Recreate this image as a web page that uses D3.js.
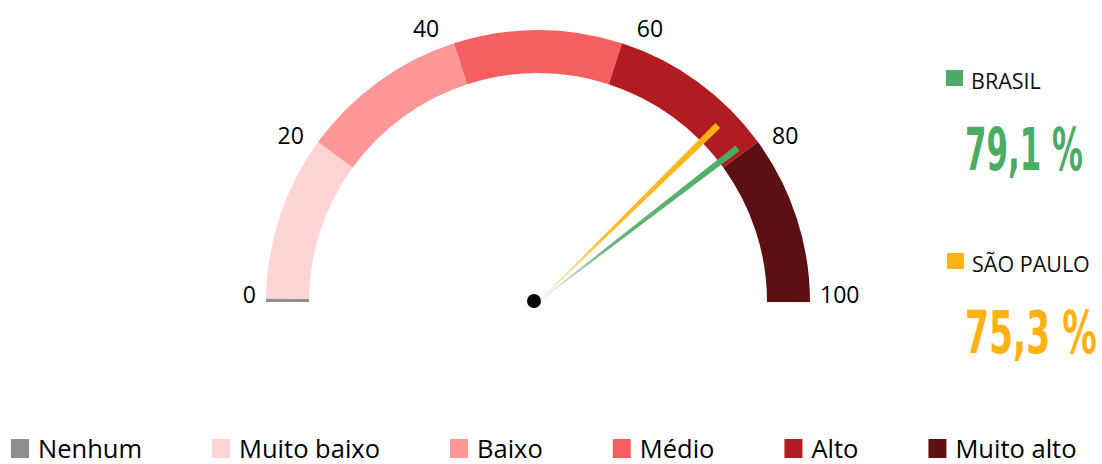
<!DOCTYPE html>
<html>
<head>
<meta charset="utf-8">
<script src="https://cdn.jsdelivr.net/npm/d3@7"></script>
<style>
  body { margin: 0; background: #fff; }
  svg { display: block; font-family: "Open Sans", sans-serif; }
</style>
</head>
<body>
<script>
// gauge bands (value ranges on a 0-100 scale)
const bandNames = ['Nenhum', 'Muito baixo', 'Baixo', 'Médio', 'Alto', 'Muito alto'];
const bandColors = ['#8e8e8e', '#ffd4d6', '#ff9698', '#f65f62', '#b01c1f', '#5c1013'];
const bandStart = [0, 0.4, 20, 40, 60, 80];
const bandEnd = [0.4, 20, 40, 60, 80, 100];

const tickValues = [0, 20, 40, 60, 80, 100];

// needles
const seriesNames = ['BRASIL', 'SÃO PAULO'];
const seriesValues = [79.1, 75.3];
const seriesLabels = ['79,1 %', '75,3 %'];
const seriesColors = ['#4cab65', '#ffb214'];

const width = 1102, height = 464;
const cx = 538, cy = 302;
const outerR = 272, innerR = 229, needleR = 252, labelR = 282;

const svg = d3.select('body').append('svg')
    .attr('width', width)
    .attr('height', height);

const angle = d3.scaleLinear().domain([0, 100]).range([-Math.PI / 2, Math.PI / 2]);

const gauge = svg.append('g')
    .attr('transform', 'translate(' + cx + ',' + cy + ')');

const arc = d3.arc()
    .innerRadius(innerR)
    .outerRadius(outerR);

const bands = bandNames.map((n, i) => ({name: n, color: bandColors[i], start: bandStart[i], end: bandEnd[i]}));

gauge.selectAll('path.band')
    .data(bands)
    .enter()
    .append('path')
    .attr('class', 'band')
    .attr('d', d => arc({startAngle: angle(d.start), endAngle: angle(d.end)}))
    .attr('fill', d => d.color);

// tick labels: box edge kept just outside the arc, spread a little toward the sides
gauge.selectAll('text.tick')
    .data(tickValues)
    .enter()
    .append('text')
    .attr('class', 'tick')
    .attr('text-anchor', 'middle')
    .attr('dy', '0.35em')
    .style('font-size', '23px')
    .attr('fill', '#000')
    .text(d => d)
    .each(function(d) {
        const a = angle(d);
        const theta = (Math.PI / 2 - Math.abs(a)) * 0.94;
        const ux = Math.sign(a) * Math.cos(theta), uy = -Math.sin(theta);
        const w = this.getComputedTextLength();
        const r = labelR + Math.abs(ux) * w / 2 + Math.abs(uy) * 8.5;
        d3.select(this)
            .attr('x', r * ux)
            .attr('y', r * uy - (theta === 0 ? 7 : 0));
    });

// needles: thin at the hub, wider at the tip, fading in from the centre
const defs = svg.append('defs');
const needles = seriesNames.map((n, i) => ({name: n, value: seriesValues[i], color: seriesColors[i], id: 'ng' + i}));

needles.forEach(d => {
    const a = angle(d.value);
    const g = defs.append('linearGradient')
        .attr('id', d.id)
        .attr('gradientUnits', 'userSpaceOnUse')
        .attr('x1', 0).attr('y1', 0)
        .attr('x2', needleR * Math.sin(a)).attr('y2', -needleR * Math.cos(a));
    g.append('stop').attr('offset', 0).attr('stop-color', d.color).attr('stop-opacity', 0.1);
    g.append('stop').attr('offset', 0.35).attr('stop-color', d.color).attr('stop-opacity', 0.85);
    g.append('stop').attr('offset', 1).attr('stop-color', d.color).attr('stop-opacity', 1);
});

gauge.selectAll('path.needle')
    .data(needles.slice().reverse())
    .enter()
    .append('path')
    .attr('class', 'needle')
    .attr('d', d => {
        const a = angle(d.value);
        const ux = Math.sin(a), uy = -Math.cos(a);
        const px = -uy, py = ux;
        const w0 = 0.4, w1 = 3.4;
        const tx = needleR * ux, ty = needleR * uy;
        return 'M' + (px * w0) + ',' + (py * w0) +
            'L' + (tx + px * w1) + ',' + (ty + py * w1) +
            'L' + (tx - px * w1) + ',' + (ty - py * w1) +
            'L' + (-px * w0) + ',' + (-py * w0) + 'Z';
    })
    .attr('fill', d => 'url(#' + d.id + ')');

gauge.append('circle')
    .attr('cx', -4)
    .attr('cy', -1)
    .attr('r', 7)
    .attr('fill', '#000');

// right side: series legend with big values
const side = svg.append('g').attr('class', 'side');
const sideTop = [70, 253];
const valueWidths = [118, 132];

needles.forEach((d, i) => {
    const y0 = sideTop[i];
    side.append('rect')
        .attr('x', 946 + i)
        .attr('y', y0)
        .attr('width', 17)
        .attr('height', 16)
        .attr('fill', d.color);
    side.append('text')
        .attr('x', 971 + i)
        .attr('y', y0 + 19)
        .style('font-size', '21.5px')
        .attr('fill', '#111')
        .text(d.name);
    // big condensed number: squeeze horizontally to the reference width
    const g = side.append('g');
    const t = g.append('text')
        .attr('x', 0)
        .attr('y', 0)
        .style('font-family', '"DejaVu Sans Condensed", "DejaVu Sans", sans-serif')
        .style('font-weight', 'bold')
        .style('font-size', '58px')
        .attr('fill', d.color)
        .text(seriesLabels[i]);
    const sx = valueWidths[i] / t.node().getComputedTextLength();
    g.attr('transform', 'translate(965,' + (y0 + 100) + ') scale(' + sx + ',1)');
});

// bottom legend of the bands, laid out left to right
const legend = svg.append('g').attr('class', 'legend');
let lx = 11;
bands.forEach(d => {
    legend.append('rect')
        .attr('x', lx)
        .attr('y', 439)
        .attr('width', 18)
        .attr('height', 19)
        .attr('fill', d.color);
    const t = legend.append('text')
        .attr('x', lx + 27)
        .attr('y', 458)
        .style('font-size', '25.5px')
        .attr('fill', '#000')
        .text(d.name);
    lx = lx + 27 + t.node().getComputedTextLength() + 70;
});
</script>
</body>
</html>
